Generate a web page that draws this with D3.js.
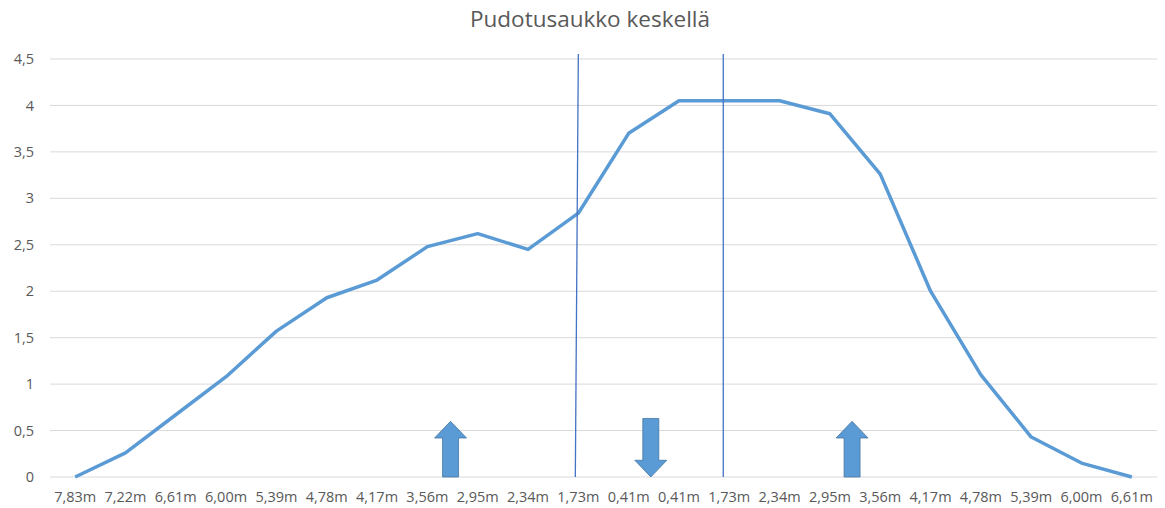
<!DOCTYPE html>
<html lang="fi">
<head>
    <meta charset="UTF-8">
    <title>Pudotusaukko keskellä</title>
    <script src="https://cdn.jsdelivr.net/npm/d3@7"></script>
    <style>
        body { margin: 0; background: #fff; }
        text { font-family: "Open Sans", Lato, sans-serif; fill: #595959; }
    </style>
</head>
<body>
<script>
    const width = 1165;
    const height = 508;

    // distances along the cross section
    const categories = ["7,83m","7,22m","6,61m","6,00m","5,39m","4,78m","4,17m","3,56m","2,95m","2,34m","1,73m",
                        "0,41m","0,41m","1,73m","2,34m","2,95m","3,56m","4,17m","4,78m","5,39m","6,00m","6,61m"];
    const values = [0, 0.26, 0.67, 1.08, 1.57, 1.93, 2.12, 2.48, 2.62, 2.45, 2.84,
                    3.70, 4.05, 4.05, 4.05, 3.91, 3.26, 2.0, 1.10, 0.43, 0.15, 0];
    const yTicks = [0, 0.5, 1, 1.5, 2, 2.5, 3, 3.5, 4, 4.5];
    // marker lines (category index, top and bottom) and arrows (category index, direction)
    const markerLines = [[10, 9.94], [12.88, 12.88]];
    const arrows = [[7.46, "up"], [11.44, "down"], [15.44, "up"]];

    const margin = {top: 59, right: 8, bottom: 31, left: 50};

    const svg = d3.select("body").append("svg")
        .attr("width", width).attr("height", height);

    const x = d3.scalePoint()
        .domain(d3.range(categories.length))
        .range([margin.left, width - margin.right])
        .padding(0.5);
    const step = x.step();
    const xPos = i => x(0) + i * step;

    const y = d3.scaleLinear()
        .domain([0, 4.5])
        .range([height - margin.bottom, margin.top]);

    // title
    svg.append("text")
        .attr("x", 590).attr("y", 27)
        .attr("text-anchor", "middle")
        .style("font-size", "22.5px")
        .text("Pudotusaukko keskellä");

    // grid
    svg.append("g").selectAll("line")
        .data(yTicks)
        .join("line")
        .attr("x1", margin.left).attr("x2", width - margin.right)
        .attr("y1", d => y(d)).attr("y2", d => y(d))
        .style("stroke", "#d9d9d9").style("stroke-width", 1);

    // y labels
    svg.append("g").selectAll("text")
        .data(yTicks)
        .join("text")
        .attr("x", 34).attr("y", d => y(d))
        .attr("dy", "0.35em")
        .attr("text-anchor", "end")
        .style("font-size", "14.5px")
        .text(d => d3.format(".1~f")(d).replace(".", ","));

    // x labels
    svg.append("g").selectAll("text")
        .data(categories)
        .join("text")
        .attr("x", (d, i) => x(i)).attr("y", 497)
        .attr("dy", "0.35em")
        .attr("text-anchor", "middle")
        .style("font-size", "14.5px")
        .text(d => d);

    // series
    const line = d3.line()
        .x((d, i) => x(i))
        .y(d => y(d));

    svg.append("path")
        .datum(values)
        .attr("d", line)
        .style("fill", "none")
        .style("stroke", "#5b9bd5")
        .style("stroke-width", 3.5)
        .style("stroke-linejoin", "round");

    // vertical marker lines
    svg.append("g").selectAll("line")
        .data(markerLines)
        .join("line")
        .attr("x1", d => xPos(d[0])).attr("x2", d => xPos(d[1]))
        .attr("y1", 54).attr("y2", y(0))
        .style("stroke", "#4472c4").style("stroke-width", 1.3);

    // arrows
    const arrowShape = (cx, dir) => {
        const base = y(0), tip = y(0.6), neck = y(0.42);
        const sw = 8, hw = 16;
        if (dir === "up") {
            return `M${cx - sw},${base} L${cx - sw},${neck} L${cx - hw},${neck} L${cx},${tip}
                    L${cx + hw},${neck} L${cx + sw},${neck} L${cx + sw},${base} Z`;
        }
        const top = y(0.63), neckD = y(0.18);
        return `M${cx - sw},${top} L${cx + sw},${top} L${cx + sw},${neckD} L${cx + hw},${neckD}
                L${cx},${base} L${cx - hw},${neckD} L${cx - sw},${neckD} Z`;
    };

    svg.append("g").selectAll("path")
        .data(arrows)
        .join("path")
        .attr("d", d => arrowShape(xPos(d[0]), d[1]))
        .style("fill", "#5b9bd5")
        .style("stroke", "#41719c")
        .style("stroke-width", 0.75);
</script>
</body>
</html>
